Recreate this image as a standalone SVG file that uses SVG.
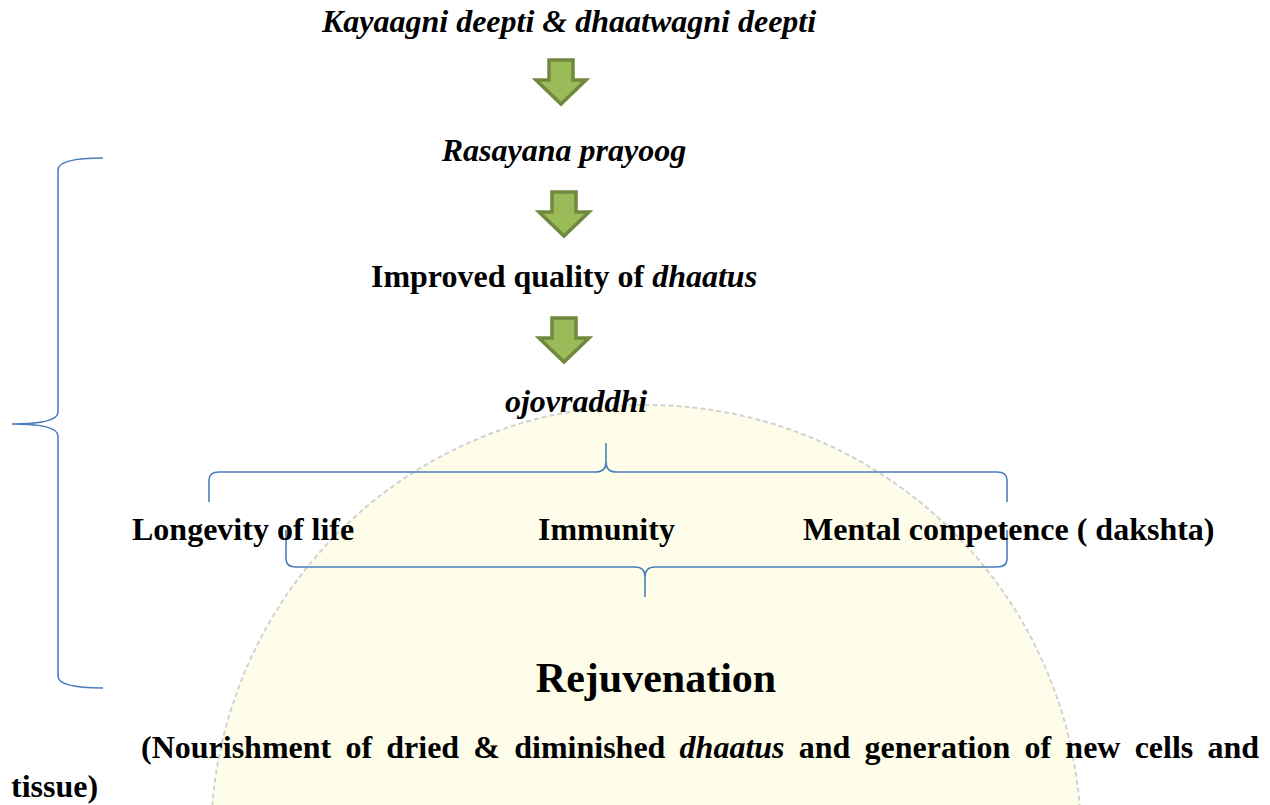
<svg xmlns="http://www.w3.org/2000/svg" width="1270" height="805" viewBox="0 0 1270 805">
<style>
.t{font-family:"Liberation Serif","Times New Roman",serif;font-weight:bold;font-size:32px;fill:#000}
.i{font-style:italic}
.big{font-size:42px}
.br{fill:none;stroke:#4a7ebb;stroke-width:1.6}
.ar{fill:#9bbb59;stroke:#71893f;stroke-width:3.5;stroke-linejoin:miter}
</style>
<defs>
<path id="arrow" class="ar" d="M-12,0 H12 V20 H25 L0,44 L-25,20 H-12 Z"/>
</defs>
<rect width="1270" height="805" fill="#ffffff"/>
<g id="watermark">
<circle cx="646" cy="840" r="435" fill="#fefde9" stroke="#d2d2d2" stroke-width="2" stroke-dasharray="5 3"/>
</g>
<g id="connectors">
<use href="#arrow" x="561" y="60"/>
<use href="#arrow" x="564" y="192"/>
<use href="#arrow" x="564" y="318"/>
<path class="br" d="M103,158 Q58,158 58,170 V412 Q58,424 12,424 Q58,424 58,436 V676 Q58,688 103,688"/>
<path class="br" d="M209,502 V480 Q209,472 219,472 H596 Q606,472 606,462 V443 V462 Q606,472 616,472 H997 Q1007,472 1007,480 V502"/>
<path class="br" d="M286,530 V559 Q286,567 296,567 H635 Q645,567 645,577 V597 V577 Q645,567 655,567 H997 Q1007,567 1007,559 V530"/>
</g>
<g id="n1"><text class="t i" x="569" y="32" text-anchor="middle">Kayaagni deepti &amp; dhaatwagni deepti</text></g>
<g id="n2"><text class="t i" x="564" y="161" text-anchor="middle">Rasayana prayoog</text></g>
<g id="n3"><text class="t" x="564" y="287" text-anchor="middle">Improved quality of <tspan class="i">dhaatus</tspan></text></g>
<g id="n4"><text class="t i" x="576" y="412" text-anchor="middle">ojovraddhi</text></g>
<g id="n5"><text class="t" x="132" y="540">Longevity of life</text></g>
<g id="n6"><text class="t" x="538" y="540">Immunity</text></g>
<g id="n7"><text class="t" x="803" y="540">Mental competence ( dakshta)</text></g>
<g id="n8"><text class="t big" x="656" y="692" text-anchor="middle">Rejuvenation</text></g>
<g id="n9">
<text class="t" x="141" y="758" word-spacing="6.2">(Nourishment of dried &amp; diminished <tspan class="i">dhaatus</tspan> and generation of new cells and</text>
<text class="t" x="11" y="797">tissue)</text>
</g>
</svg>
